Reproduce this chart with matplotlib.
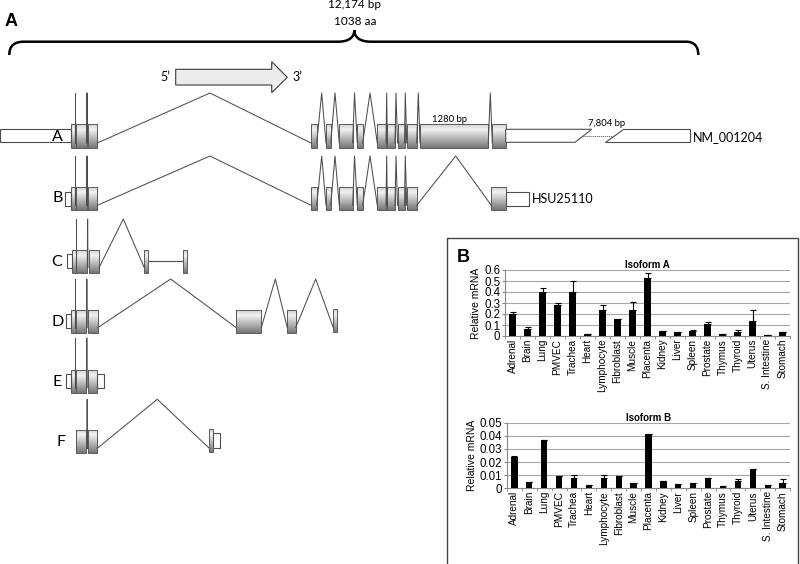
import numpy as np
import matplotlib
matplotlib.use('Agg')
import matplotlib.pyplot as plt
from matplotlib.patches import Rectangle, Polygon, PathPatch
from matplotlib.path import Path
from matplotlib.colors import LinearSegmentedColormap
from matplotlib.ticker import FuncFormatter, FixedLocator

# ---- panel B data (relative mRNA per tissue) ----
tissues = ['Adrenal', 'Brain', 'Lung', 'PMVEC', 'Trachea', 'Heart', 'Lymphocyte',
           'Fibroblast', 'Muscle', 'Placenta', 'Kidney', 'Liver', 'Spleen', 'Prostate',
           'Thymus', 'Thyroid', 'Uterus', 'S. Intestine', 'Stomach']
valsA = [0.20, 0.065, 0.40, 0.28, 0.40, 0.015, 0.24, 0.155, 0.235, 0.527,
         0.042, 0.038, 0.05, 0.105, 0.02, 0.04, 0.135, 0.012, 0.035]
errA = [0.02, 0.015, 0.04, 0.02, 0.10, 0.0, 0.04, 0.0, 0.075, 0.043,
        0.0, 0.0, 0.008, 0.02, 0.0, 0.012, 0.10, 0.0, 0.003]
valsB = [0.0241, 0.0048, 0.0368, 0.0094, 0.0076, 0.0023, 0.0076, 0.0094, 0.0038, 0.0414,
         0.0053, 0.003, 0.0038, 0.0076, 0.0018, 0.0058, 0.015, 0.0025, 0.0043]
errB = [0.0004, 0, 0, 0, 0.0023, 0, 0.0023, 0, 0, 0,
        0, 0, 0, 0, 0, 0.0012, 0, 0, 0.0026]
yticksA = [0, 0.1, 0.2, 0.3, 0.4, 0.5, 0.6]
yticksB = [0, 0.01, 0.02, 0.03, 0.04, 0.05]

# ---- panel A gene models (x in pixels along the diagram) ----
rows = ['A', 'B', 'C', 'D', 'E', 'F']
row_top = {'A': 124, 'B': 187.3, 'C': 250, 'D': 310, 'E': 370, 'F': 430}
row_h = {'A': 24, 'B': 23, 'C': 22.7, 'D': 22.7, 'E': 22.7, 'F': 23.3}
row_peak = {'A': 93, 'B': 156, 'C': 219, 'D': 279, 'E': 338, 'F': 399.3}

exons = {
 'A': [(70.7, 76), (76, 86.5), (87.5, 97.3), (311, 316.7), (326, 330.7), (339.3, 352.7),
       (357.3, 362.7), (377.3, 386), (387.3, 395), (397.5, 404.5), (406.7, 416.7),
       (420, 488.3), (492.3, 505.7)],
 'B': [(70.7, 76), (76, 86.5), (87.5, 97.3), (311, 316.7), (326, 330.7), (339.3, 352.7),
       (357.3, 362.7), (377.3, 386), (387.3, 395), (397.5, 404.5), (406.7, 416.7),
       (491.3, 505.7)],
 'C': [(72.3, 76.3), (76.3, 87.3), (88.5, 99), (144.3, 148.3), (183, 186.7)],
 'D': [(70.7, 76), (76, 86.3), (87.7, 97.7), (236.3, 261.3), (287.3, 295.7), (333.3, 336.7)],
 'E': [(70.7, 76), (76, 86.3), (87.7, 97.3)],
 'F': [(76, 86.3), (87.7, 97.3), (209.3, 213.3)],
}
# intron (start, peak, end)
introns = {
 'A': [(74.5, 74.5, 74.5), (86.6, 87, 87.4), (97.3, 210, 311), (316.7, 321.7, 326),
       (330.7, 335, 339.3), (352.7, 354.5, 357.3), (362.7, 370, 377.3), (386, 386.7, 387.3),
       (395, 396, 397.5), (404.5, 405.3, 406.7), (416.7, 418.3, 420), (488.3, 490.3, 492.3)],
 'B': [(74.5, 74.5, 74.5), (86.6, 87, 87.4), (97.3, 210, 311), (316.7, 321.7, 326),
       (330.7, 335, 339.3), (352.7, 354.5, 357.3), (362.7, 370, 377.3), (386, 386.7, 387.3),
       (395, 396, 397.5), (404.5, 405.3, 406.7), (416.7, 455.7, 491.3)],
 'C': [(76.3, 76.3, 76.3), (87.3, 87.6, 88), (99, 123.3, 144.3)],
 'D': [(75, 75, 75), (86.5, 86.8, 87.2), (97.7, 170.7, 236.3), (261.3, 275.3, 287.3),
       (295.7, 315.7, 333.3)],
 'E': [(75, 75, 75), (86.5, 86.8, 87.2)],
 'F': [(87, 87.2, 87.4), (97.3, 157.3, 209.3)],
}
# untranslated regions drawn as white boxes (x0, x1, y0, y1)
utrs = [(0, 70.7, 129, 142.3), (65, 70.7, 191.7, 205.7), (505.7, 529.3, 191.7, 205.7),
        (67.3, 72.3, 254.3, 268.3), (65.7, 70.7, 314.3, 327.7), (65.7, 70.7, 374.3, 388.3),
        (97.3, 103.7, 374.3, 388.3), (213.3, 219.7, 433.3, 447.7)]
row_label_pos = {'A': (57, 137), 'B': (57.5, 198), 'C': (56.7, 261.5), 'D': (57.3, 322),
                 'E': (57.3, 381.5), 'F': (60.7, 441.5)}

dia_font = ['Lato', 'DejaVu Sans']
bar_font = ['Liberation Sans', 'DejaVu Sans']
line_col = '#4e4e4e'
exon_cmap = LinearSegmentedColormap.from_list('exon', [(0, '#d0d0d0'), (0.22, '#f2f2f2'), (1, '#767676')])
grad = np.linspace(0, 1, 64).reshape(-1, 1)


def exon_box(ax, x0, x1, y0, y1):
   rect = Rectangle((x0, y0), x1 - x0, y1 - y0, fc='none', ec='#5a5a5a', lw=0.7, zorder=3)
   ax.add_patch(rect)
   im = ax.imshow(grad, cmap=exon_cmap, extent=[x0, x1, y1, y0], origin='upper',
                  aspect='auto', zorder=2, interpolation='bilinear')
   im.set_clip_path(rect)


def bar_panel(rect, vals, errs, ticks, title):
   bx = fig.add_axes(rect)
   x = np.arange(len(tissues))
   bx.bar(x, vals, width=0.42, color='black', zorder=3)
   bx.errorbar(x, vals, yerr=[np.zeros(len(vals)), errs], fmt='none', ecolor='black',
               elinewidth=0.8, capsize=2, capthick=0.8, zorder=4)
   bx.set_xlim(-0.5, len(tissues) - 0.5)
   bx.set_ylim(0, ticks[-1])
   bx.yaxis.set_major_locator(FixedLocator(ticks))
   bx.yaxis.set_major_formatter(FuncFormatter(lambda v, p: '0' if v == 0 else '%g' % v))
   bx.yaxis.grid(True, color='#a6a6a6', lw=0.8, zorder=0)
   bx.set_xticks(x)
   bx.set_xticklabels(tissues, rotation=90, fontsize=7.2, family=bar_font)
   bx.set_xticks(np.arange(len(tissues) + 1) - 0.5, minor=True)
   bx.tick_params(axis='x', which='major', length=0, pad=2)
   bx.tick_params(axis='x', which='minor', length=2.5, color='#888888')
   bx.tick_params(axis='y', length=2.5, color='#888888', labelsize=8.3, pad=1)
   for lab in bx.get_yticklabels():
      lab.set_family(bar_font)
   for s in ['top', 'right']:
      bx.spines[s].set_visible(False)
   for s in ['left', 'bottom']:
      bx.spines[s].set_color('#888888')
      bx.spines[s].set_linewidth(0.8)
   bx.set_title(title, fontsize=7, fontweight='bold', family=bar_font, pad=1)
   bx.set_ylabel('Relative mRNA', fontsize=7.5, family=bar_font, labelpad=2)
   return bx


fig = plt.figure(figsize=(8, 5.64), dpi=100)
ax = fig.add_axes([0, 0, 1, 1])

# panel label and brace
ax.text(11, 22, 'A', fontsize=13, fontweight='bold', family=bar_font, ha='center', va='center')
ax.text(355, 5, '12,174 bp', fontsize=8.5, family=dia_font, ha='center', va='center')
ax.text(355, 21.5, '1038 aa', fontsize=8.5, family=dia_font, ha='center', va='center')
verts = [(9.3, 55), (9.3, 46), (14, 41.7), (24, 41.7), (338, 41.7),
         (348, 41.7), (354.3, 38), (354.3, 30), (354.3, 38), (361, 41.7), (370.6, 41.7),
         (686, 41.7), (694, 41.7), (698.3, 46), (698.3, 55)]
codes = [Path.MOVETO, Path.CURVE4, Path.CURVE4, Path.CURVE4, Path.LINETO,
         Path.CURVE4, Path.CURVE4, Path.CURVE4, Path.CURVE4, Path.CURVE4, Path.CURVE4,
         Path.LINETO, Path.CURVE4, Path.CURVE4, Path.CURVE4]
ax.add_patch(PathPatch(Path(verts, codes), fc='none', ec='black', lw=1.8))

# 5' -> 3' arrow
arrow_pts = [(175.7, 69.3), (271.7, 69.3), (271.7, 61.7), (287.3, 77.3),
             (271.7, 92.7), (271.7, 85), (175.7, 85)]
ax.add_patch(Polygon(arrow_pts, closed=True, fc='#ececec', ec='#3a3a3a', lw=0.8))
ax.text(165, 77, '5\u2019', fontsize=9, family=dia_font, ha='center', va='center')
ax.text(297, 77, '3\u2019', fontsize=9, family=dia_font, ha='center', va='center')

# gene models
for r in rows:
   top = row_top[r]
   bot = top + row_h[r]
   for x0, x1 in exons[r]:
      y0, y1 = top, bot
      if r == 'D' and x0 > 330:
         y0, y1 = top - 1, bot - 1
      if r == 'F' and x0 > 200:
         y0, y1 = top - 1, bot - 1.6
      exon_box(ax, x0, x1, y0, y1)
   for xs, xp, xe in introns[r]:
      ax.plot([xs, xp, xe], [bot - 5, row_peak[r], bot - 5], color=line_col, lw=0.75, zorder=4)
   lx, ly = row_label_pos[r]
   ax.text(lx, ly, r, fontsize=11.5, family=dia_font, ha='center', va='center', zorder=6)

for x0, x1, y0, y1 in utrs:
   ax.add_patch(Rectangle((x0, y0), x1 - x0, y1 - y0, fc='white', ec=line_col, lw=0.8, zorder=3))

# isoform C plain connector
ax.plot([148.3, 183], [261, 261], color=line_col, lw=0.8, zorder=1)

# broken 3' UTR of NM_001204
ax.add_patch(Polygon([(505.7, 129.3), (591.7, 129.3), (575, 142.3), (505.7, 142.3)],
                     closed=True, fc='white', ec=line_col, lw=0.8, zorder=3))
ax.add_patch(Polygon([(623.3, 129.3), (690, 129.3), (690, 142.3), (605, 142.3)],
                     closed=True, fc='white', ec=line_col, lw=0.8, zorder=3))
ax.plot([583.3, 613.3], [136, 136], color=line_col, lw=0.7, ls=(0, (1, 1)), zorder=2)
ax.text(607, 123.3, '7,804 bp', fontsize=6.8, family=dia_font, ha='center', va='center')
ax.text(450, 119.3, '1280 bp', fontsize=6.8, family=dia_font, ha='center', va='center', zorder=5)
ax.text(692.7, 137.5, 'NM_001204', fontsize=9, family=dia_font, ha='left', va='center')
ax.text(532, 199, 'HSU25110', fontsize=9, family=dia_font, ha='left', va='center')

# panel B frame
ax.add_patch(Rectangle((447, 238), 351, 340, fc='none', ec='#444444', lw=1.0))
ax.text(463, 258, 'B', fontsize=13, fontweight='bold', family=bar_font, ha='center', va='center')

ax.set_xlim(0, 800)
ax.set_ylim(564, 0)
ax.axis('off')

bar_panel([505 / 800, 1 - 336 / 564, 285 / 800, 66 / 564], valsA, errA, yticksA, 'Isoform A')
bar_panel([507 / 800, 1 - 488.3 / 564, 283 / 800, 65.6 / 564], valsB, errB, yticksB, 'Isoform B')

plt.savefig('out.png', dpi=100)
plt.close(fig)
